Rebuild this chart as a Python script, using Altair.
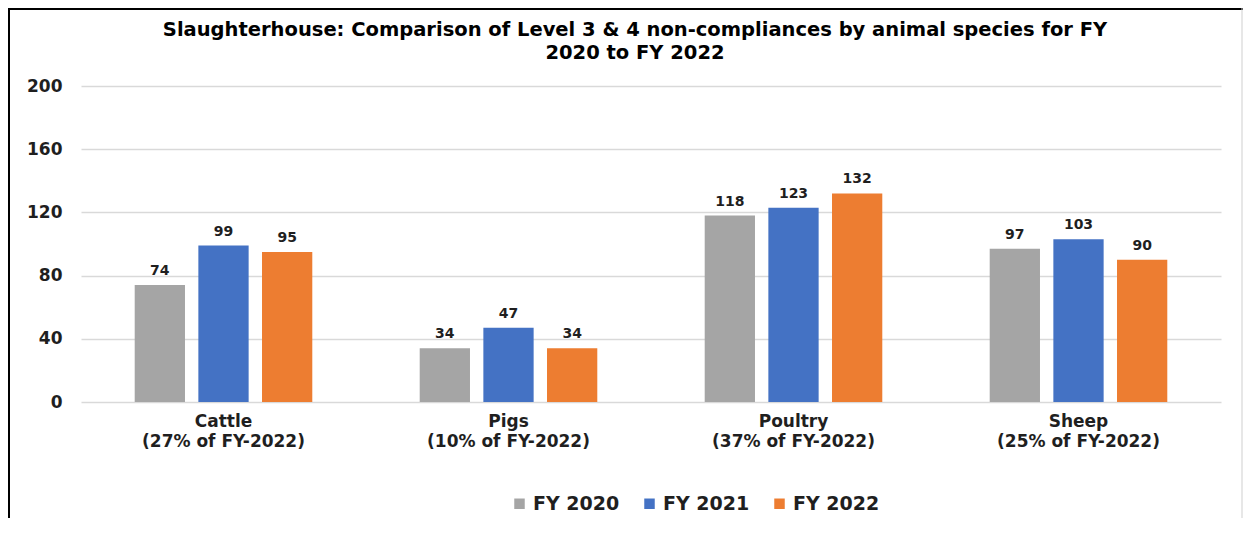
import altair as alt
import pandas as pd

categories = ["Cattle", "Pigs", "Poultry", "Sheep"]
shares = ["(27% of FY-2022)", "(10% of FY-2022)", "(37% of FY-2022)", "(25% of FY-2022)"]
series = ["FY 2020", "FY 2021", "FY 2022"]
fy2020 = [74, 34, 118, 97]
fy2021 = [99, 47, 123, 103]
fy2022 = [95, 34, 132, 90]
colors = ["#A5A5A5", "#4472C4", "#ED7D31"]
y_ticks = [0, 40, 80, 120, 160, 200]

rows = []
for s, vals in zip(series, [fy2020, fy2021, fy2022]):
    for c, sh, v in zip(categories, shares, vals):
        rows.append({"cat": c + "|" + sh, "series": s, "value": v})
df = pd.DataFrame(rows)
cat_order = [c + "|" + sh for c, sh in zip(categories, shares)]

x = alt.X("cat:N", sort=cat_order, title=None,
          scale=alt.Scale(paddingInner=0.33, paddingOuter=0.165),
          axis=alt.Axis(labelExpr="split(datum.label, '|')", labelAngle=0,
                        labelFont="DejaVu Sans", labelFontWeight="bold",
                        labelFontSize=17, labelColor="#1F1F1F", labelLineHeight=20,
                        labelPadding=11, ticks=False, domain=False, grid=False))
xo = alt.XOffset("series:N", sort=series,
                 scale=alt.Scale(paddingInner=0.21, paddingOuter=0.105))
y = alt.Y("value:Q", title=None,
          scale=alt.Scale(domain=[0, 200], nice=False),
          axis=alt.Axis(values=y_ticks, labelFont="DejaVu Sans", labelFontWeight="bold",
                        labelFontSize=17, labelColor="#1F1F1F", labelPadding=19,
                        ticks=False, domain=False, grid=True, gridColor="#D9D9D9",
                        gridWidth=1.5))
color = alt.Color("series:N", sort=series,
                  scale=alt.Scale(domain=series, range=colors),
                  legend=alt.Legend(title=None, orient="none", direction="horizontal",
                                    legendX=429, legendY=408, symbolType="square",
                                    symbolSize=110, symbolStrokeWidth=0,
                                    labelFont="DejaVu Sans", labelFontWeight="bold",
                                    labelFontSize=19, labelColor="#1F1F1F",
                                    labelOffset=4, columnPadding=20))

base = alt.Chart(df)
bars = base.mark_bar().encode(x=x, xOffset=xo, y=y, color=color)
labels = base.mark_text(font="DejaVu Sans", fontWeight="bold", fontSize=14,
                        color="#1F1F1F", baseline="alphabetic", dy=-10).encode(
    x=x, xOffset=xo, y=y, text=alt.Text("value:Q"))

frame_df = pd.DataFrame({"k": [0]})
top = alt.Chart(frame_df).mark_rule(color="black", strokeWidth=2).encode(
    x=alt.value(-73), x2=alt.value(1162), y=alt.value(-77))
left = alt.Chart(frame_df).mark_rule(color="black", strokeWidth=2).encode(
    x=alt.value(-72), y=alt.value(-78), y2=alt.value(440))
right = alt.Chart(frame_df).mark_rule(color="#CFCFCF", strokeWidth=1).encode(
    x=alt.value(1161), y=alt.value(-78), y2=alt.value(440))

chart = alt.layer(bars, labels, top, left, right).properties(
    width=1140, height=316,
    padding={"left": 73, "top": 78, "right": 22, "bottom": 116},
    autosize=alt.AutoSizeParams(type="none"),
    background="white",
    title=alt.TitleParams(
        ["Slaughterhouse: Comparison of Level 3 & 4 non-compliances by animal species for FY",
         "2020 to FY 2022"],
        font="DejaVu Sans", fontSize=19.5, fontWeight="bold", color="black",
        anchor="middle", frame="group", offset=-56, lineHeight=22.5, dx=-16),
).configure_view(stroke=None)

chart.save("out.html", embed_options={"renderer": "svg", "actions": False})
